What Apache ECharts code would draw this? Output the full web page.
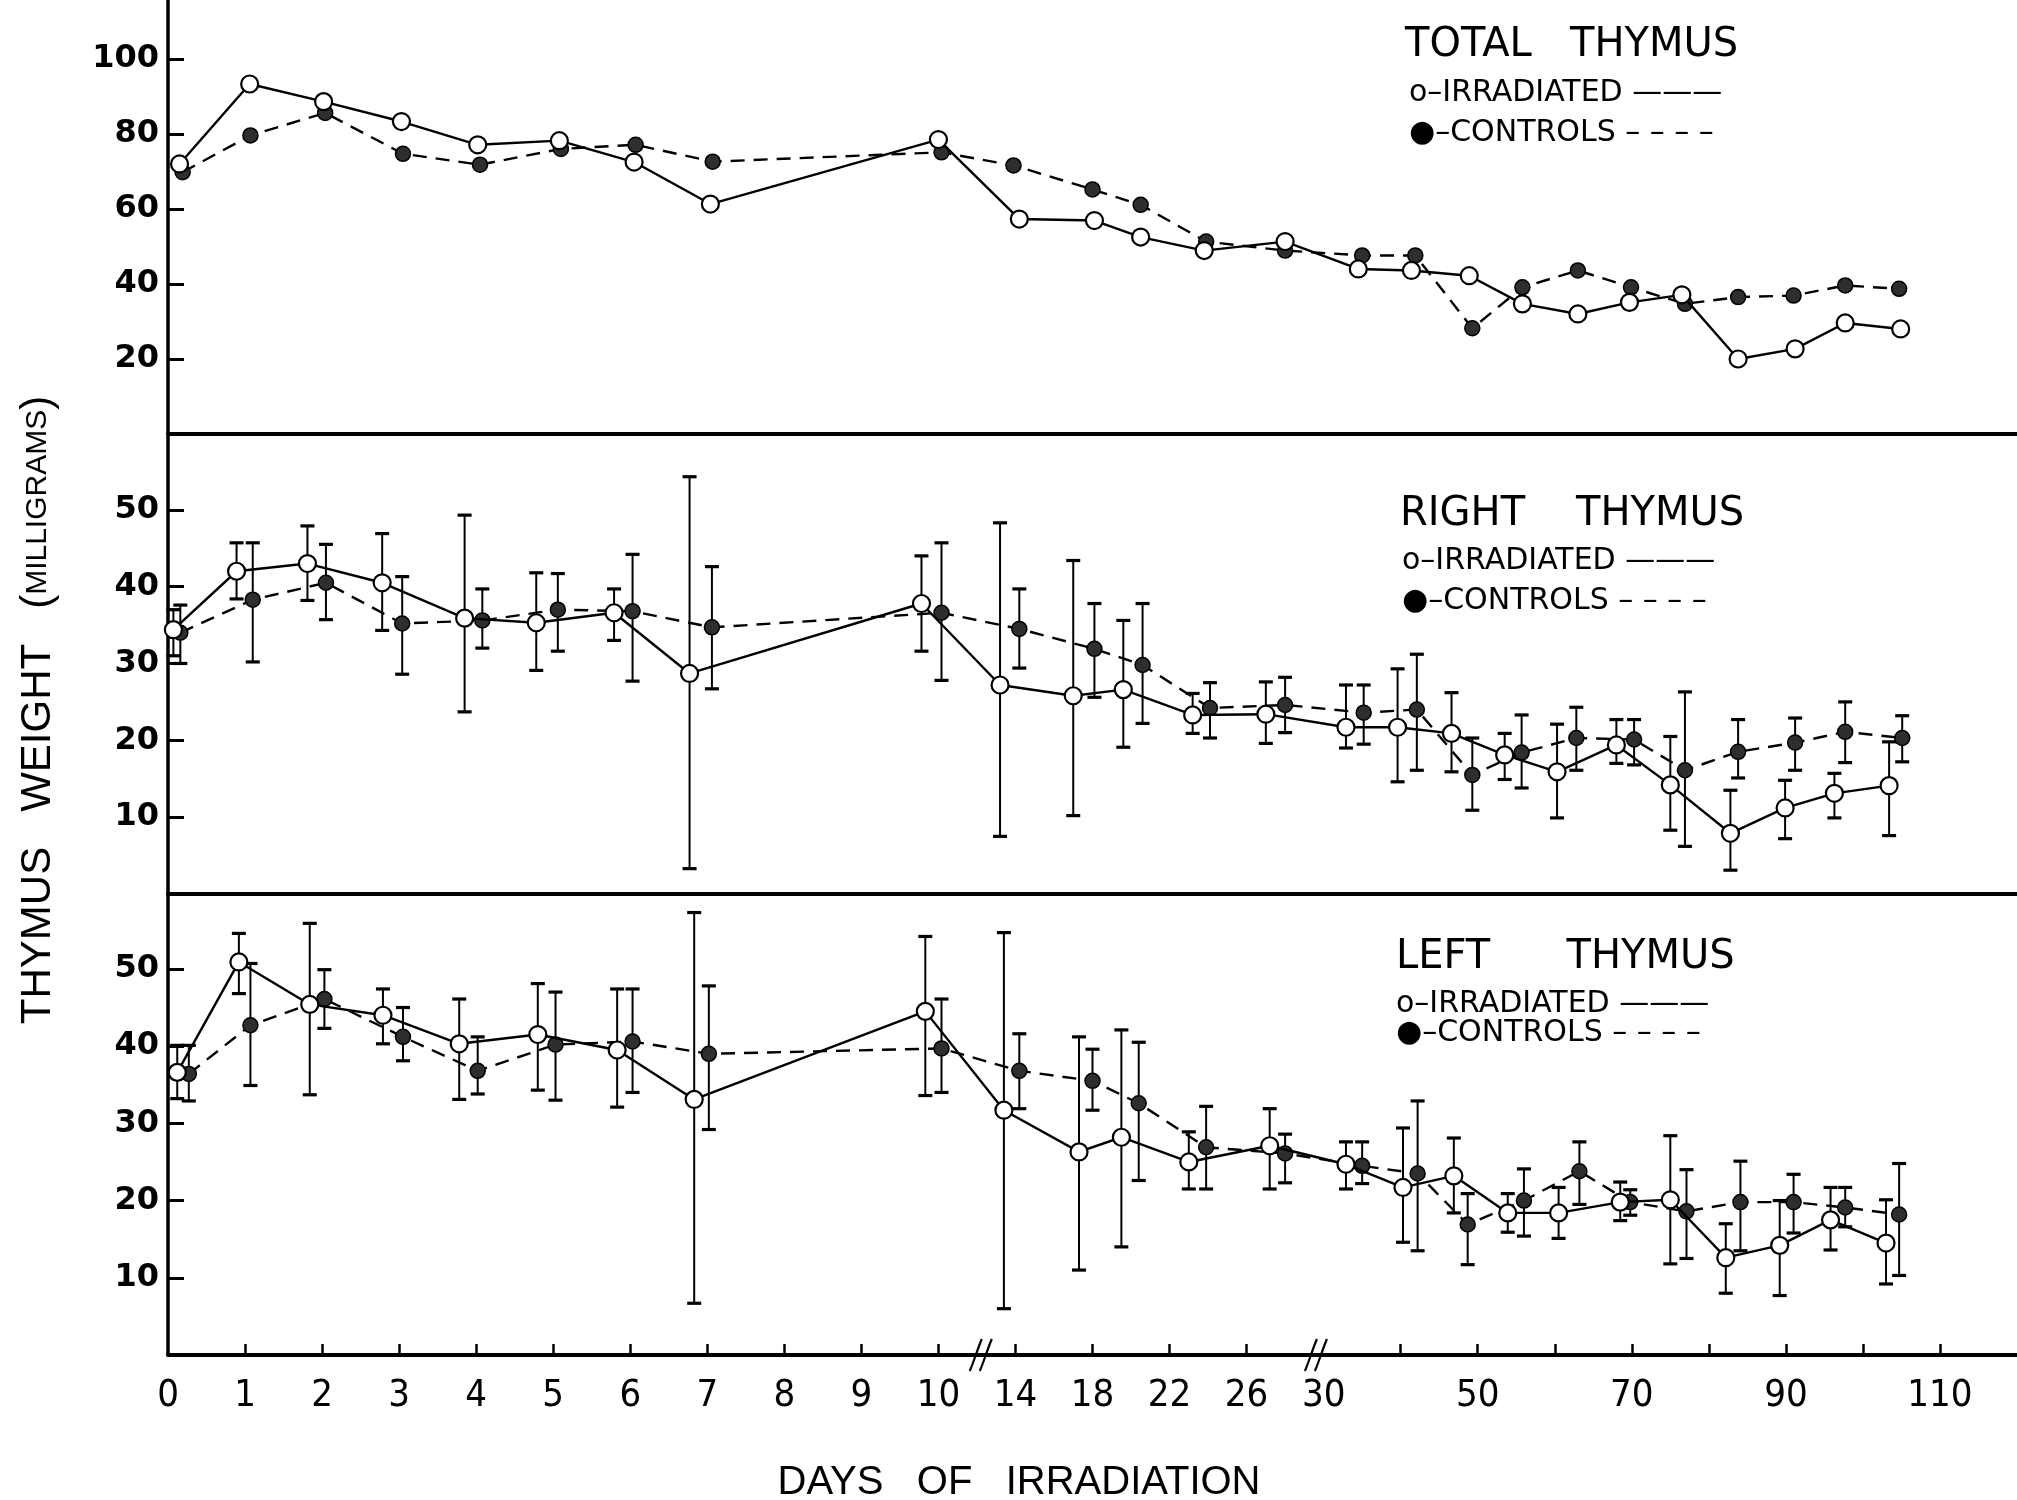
<!DOCTYPE html>
<html><head><meta charset="utf-8">
<script src="https://cdn.jsdelivr.net/npm/echarts@6/dist/echarts.min.js"></script>
<style>html,body{margin:0;padding:0;background:#fff}#c{width:2017px;height:1500px}</style>
</head><body><div id="c"></div>
<script>
// ---------- DATA (days of irradiation, thymus weight in mg) ----------
const topIrrDays = [0.15,1.06,2.02,3.03,4.02,5.08,6.05,7.04,10.0,14.2,18.1,20.5,23.8,28.0,34.5,41.4,48.9,55.8,63.0,69.7,76.5,83.8,91.2,97.7,104.9];
const topIrrVals = [72.0,93.3,88.6,83.3,77.1,78.2,72.5,61.3,78.5,57.3,56.9,52.5,48.9,51.3,44.0,43.6,42.2,34.7,32.0,35.1,37.1,20.0,22.7,29.6,28.0];
const topCtlDays = [0.19,1.07,2.04,3.05,4.05,5.1,6.07,7.07,10.16,13.9,18.0,20.5,23.9,28.0,35.0,41.9,49.3,55.8,63.0,69.9,76.9,83.8,91.0,97.7,104.7];
const topCtlVals = [69.8,79.6,85.6,74.7,71.8,76.0,77.1,72.6,75.1,71.6,65.2,61.1,51.3,48.9,47.6,47.6,28.2,39.1,43.6,39.1,34.7,36.5,36.9,39.6,38.7];

const rIrrDays = [0.07,0.89,1.81,2.78,3.85,4.78,5.79,6.77,9.78,13.2,17.0,19.6,23.2,27.0,32.9,39.6,46.6,53.5,60.3,68.0,75.0,82.8,89.9,96.3,103.4];
const rIrrVals = [34.4,42.0,43.0,40.5,35.9,35.3,36.6,28.7,37.8,27.2,25.8,26.6,23.3,23.4,21.7,21.7,20.9,18.1,15.9,19.4,14.2,7.9,11.2,13.1,14.1];
const rIrrLow  = [31.0,38.4,38.2,34.3,23.7,29.1,33.0,3.3,31.6,7.5,10.2,19.1,20.9,19.6,19.0,14.6,15.9,14.9,9.9,17.0,8.3,3.1,7.2,9.9,7.6];
const rIrrHigh = [37.0,45.7,47.9,46.9,49.3,41.8,39.7,54.3,44.0,48.3,43.4,35.6,26.1,27.6,27.2,29.3,26.2,20.9,22.1,22.7,20.5,13.5,14.8,15.7,19.8];
const rCtlDays = [0.16,1.1,2.05,3.04,4.08,5.06,6.03,7.06,10.16,14.2,18.1,20.6,24.1,28.0,35.2,42.1,49.3,55.7,62.8,70.3,76.9,83.8,91.2,97.7,105.1];
const rCtlVals = [34.0,38.3,40.5,35.2,35.6,37.0,36.8,34.7,36.6,34.5,31.9,29.8,24.2,24.6,23.6,24.0,15.5,18.4,20.3,20.1,16.1,18.5,19.7,21.1,20.3];
const rCtlLow  = [30.0,30.2,35.7,28.6,32.0,31.6,27.7,26.7,27.8,29.4,25.6,22.2,20.3,21.0,19.5,16.1,10.9,13.8,16.1,16.8,6.2,15.1,16.1,17.1,17.2];
const rCtlHigh = [37.6,45.7,45.5,41.3,39.7,41.7,44.2,42.6,45.7,39.7,37.8,37.8,27.5,28.2,27.2,31.2,20.3,23.3,24.3,22.7,26.3,22.7,22.9,25.0,23.2];

const lIrrDays = [0.12,0.92,1.84,2.79,3.78,4.8,5.83,6.83,9.83,13.4,17.3,19.5,23.0,27.2,32.9,40.3,46.9,53.9,60.5,68.5,75.0,82.2,89.2,95.8,103.0];
const lIrrVals = [36.6,50.9,45.4,44.0,40.3,41.5,39.5,33.1,44.5,31.7,26.3,28.2,25.0,27.1,24.7,21.7,23.2,18.4,18.4,19.8,20.1,12.6,14.2,17.5,14.5];
const lIrrLow  = [33.2,46.8,33.7,40.3,33.1,34.3,32.1,6.7,33.6,6.0,11.0,14.0,21.5,21.5,21.5,14.6,18.4,15.9,15.1,17.4,11.8,8.0,7.7,13.6,9.2];
const lIrrHigh = [40.1,54.6,55.9,47.4,46.1,48.1,47.4,57.3,54.2,54.7,41.2,42.1,28.9,31.9,27.6,29.4,28.1,20.9,21.7,22.4,28.4,17.0,20.0,21.7,20.1];
const lCtlDays = [0.27,1.07,2.03,3.05,4.02,5.03,6.03,7.02,10.16,14.2,18.0,20.4,23.9,28.0,35.0,42.2,48.7,56.0,63.2,69.8,77.1,84.1,91.0,97.7,104.7];
const lCtlVals = [36.4,42.7,46.1,41.2,36.8,40.2,40.6,39.0,39.7,36.8,35.5,32.6,26.9,26.1,24.5,23.5,16.9,20.0,23.8,19.8,18.6,19.8,19.8,19.1,18.2];
const lCtlLow  = [32.9,34.9,42.3,38.1,33.8,33.0,34.0,29.2,34.0,31.9,31.7,22.6,21.5,22.3,22.2,13.5,11.7,15.4,19.5,18.1,12.5,13.5,15.8,16.6,10.3];
const lCtlHigh = [40.1,50.7,49.9,45.0,41.2,47.0,47.4,47.8,46.1,41.6,39.6,40.5,32.2,28.6,27.6,32.9,20.9,24.1,27.6,21.4,24.0,25.1,23.4,21.7,24.8];

const topYTicks  = [20,40,60,80,100];
const sideYTicks = [10,20,30,40,50];
const xLabelDays = [0,1,2,3,4,5,6,7,8,9,10,14,18,22,26,30,50,70,90,110];
const xTickDays  = [1,2,3,4,5,6,7,8,9,10,14,18,22,26,40,50,60,70,80,90,100,110];

// ---------- broken (piecewise) day scale ----------
function pos(d){ if(d<=10) return d; if(d<=30) return 10+(d-10)/4; return 15+(d-30)/10; }
const pts  = (days, vals) => days.map((d,i)=>[pos(d), vals[i]]);
const bars = (days, lo, hi) => days.map((d,i)=>[pos(d), lo[i], hi[i]]);

const chart = echarts.init(document.getElementById('c'), null, {renderer:'canvas'});

const grids = [
  {left:168, right:0, top:0,   height:434},
  {left:168, right:0, top:436, height:458},
  {left:168, right:0, top:894, height:461}
];
const yMax = [115.7, 59.6, 59.7];
const NUMFONT = 'DejaVu Sans';
const NARROW = "'Liberation Sans Narrow', 'DejaVu Sans Condensed', 'Liberation Sans', sans-serif";

const xAxes = [0,1,2].map(i => ({
  type:'value', gridIndex:i, min:0, max:24,
  axisLine:{show:true, onZero:false, lineStyle:{color:'#000', width:4}},
  axisTick:{show:false}, axisLabel:{show:false}, splitLine:{show:false}
}));
xAxes[2].axisTick = {show:true, inside:true, length:11, lineStyle:{color:'#000', width:2.5},
  customValues: xTickDays.map(pos)};
xAxes[2].axisLabel = {show:true, customValues: xLabelDays.map(pos), margin:22,
  color:'#000', fontSize:38, fontFamily:NARROW, hideOverlap:false,
  formatter: v => { let best = xLabelDays[0], bd = 1e9;
    xLabelDays.forEach(d => { const dd = Math.abs(pos(d)-v); if(dd<bd){bd=dd;best=d;} });
    return String(best); }};

const yAxes = [0,1,2].map(i => {
  const t = i===0 ? topYTicks : sideYTicks;
  return {
    type:'value', gridIndex:i, min:0, max:yMax[i],
    axisLine:{show:true, lineStyle:{color:'#000', width:3.5}},
    axisTick:{show:true, inside:true, length:16, lineStyle:{color:'#000', width:3}, customValues:t},
    axisLabel:{show:true, customValues:t, margin:9, color:'#000', fontSize:32, fontWeight:'bold', fontFamily:NUMFONT},
    splitLine:{show:false}
  };
});

function irrLine(k, data){
  return {type:'line', xAxisIndex:k, yAxisIndex:k, data, symbol:'circle', symbolSize:17,
    showAllSymbol:true, clip:false, silent:true, z:5,
    lineStyle:{color:'#000', width:2.4},
    itemStyle:{color:'#fff', borderColor:'#000', borderWidth:2.2}};
}
function ctlLine(k, data){
  return {type:'line', xAxisIndex:k, yAxisIndex:k, data, symbol:'circle', symbolSize:15,
    showAllSymbol:true, clip:false, silent:true, z:4,
    lineStyle:{color:'#000', width:2.4, type:[14,9]},
    itemStyle:{color:'#2e2e2e', borderColor:'#000', borderWidth:1.5}};
}
function errBars(k, data){
  return {type:'custom', xAxisIndex:k, yAxisIndex:k, data, silent:true, z:3,
    encode:{x:0, y:[1,2]},
    renderItem:(p, api) => {
      const x = api.value(0);
      const a = api.coord([x, api.value(1)]), b = api.coord([x, api.value(2)]);
      const c = 7;
      const st = {stroke:'#000', lineWidth:2};
      const cs = {stroke:'#000', lineWidth:3.2};
      return {type:'group', children:[
        {type:'line', shape:{x1:a[0], y1:a[1], x2:b[0], y2:b[1]}, style:st},
        {type:'line', shape:{x1:a[0]-c, y1:a[1], x2:a[0]+c, y2:a[1]}, style:cs},
        {type:'line', shape:{x1:b[0]-c, y1:b[1], x2:b[0]+c, y2:b[1]}, style:cs}
      ]};
    }};
}
const breakMarks = {type:'custom', xAxisIndex:2, yAxisIndex:2, data:[[10.55],[14.9]], silent:true, z:6,
  encode:{x:0}, clip:false,
  renderItem:(p, api) => {
    const c = api.coord([api.value(0), 0]);
    const mk = dx => ({type:'bezierCurve', shape:{
      x1:c[0]+dx-6, y1:c[1]+16, cpx1:c[0]+dx-1, cpy1:c[1]+4,
      cpx2:c[0]+dx+1, cpy2:c[1]-4, x2:c[0]+dx+6, y2:c[1]-16},
      style:{stroke:'#000', lineWidth:2.2, fill:null}});
    return {type:'group', children:[mk(-5), mk(5)]};
  }};

const series = [
  ctlLine(0, pts(topCtlDays, topCtlVals)),
  irrLine(0, pts(topIrrDays, topIrrVals)),
  errBars(1, bars(rCtlDays, rCtlLow, rCtlHigh)),
  errBars(1, bars(rIrrDays, rIrrLow, rIrrHigh)),
  ctlLine(1, pts(rCtlDays, rCtlVals)),
  irrLine(1, pts(rIrrDays, rIrrVals)),
  errBars(2, bars(lCtlDays, lCtlLow, lCtlHigh)),
  errBars(2, bars(lIrrDays, lIrrLow, lIrrHigh)),
  ctlLine(2, pts(lCtlDays, lCtlVals)),
  irrLine(2, pts(lIrrDays, lIrrVals)),
  breakMarks
];

function txt(x, y, text, size, family, extra){
  return Object.assign({type:'text', x, y, silent:true, z:10, style:Object.assign({
    text, fill:'#000', fontSize:size, fontFamily:family,
    align:'left', verticalAlign:'middle', textAlign:'left', textVerticalAlign:'middle'}, extra||{})});
}
const LEG = 'DejaVu Sans';
const graphic = [
  txt(1405, 46, 'TOTAL   THYMUS', 40, LEG),
  txt(1409, 93, 'o–IRRADIATED ———', 30, LEG),
  txt(1409, 133, '●–CONTROLS – – – –', 30, LEG),
  txt(1400, 515, 'RIGHT    THYMUS', 40, LEG),
  txt(1402, 561, 'o–IRRADIATED ———', 30, LEG),
  txt(1402, 601, '●–CONTROLS – – – –', 30, LEG),
  txt(1396, 958, 'LEFT      THYMUS', 40, LEG),
  txt(1396, 1004, 'o–IRRADIATED ———', 30, LEG),
  txt(1396, 1033, '●–CONTROLS – – – –', 30, LEG),
  txt(1019, 1483, 'DAYS   OF   IRRADIATION', 40, "'Liberation Sans', sans-serif",
      {align:'center', textAlign:'center'}),
  {type:'text', x:38, y:710, rotation:Math.PI/2, silent:true, z:10, style:{
    text:'{a|THYMUS   WEIGHT   (}{b|MILLIGRAMS}{a|)}',
    align:'center', verticalAlign:'middle', textAlign:'center', textVerticalAlign:'middle',
    fill:'#000', fontSize:42, fontFamily:"'Liberation Sans', sans-serif",
    rich:{a:{fontSize:42, fontFamily:"'Liberation Sans', sans-serif", fill:'#000', color:'#000'},
          b:{fontSize:30, fontFamily:"'Liberation Sans', sans-serif", fill:'#000', color:'#000'}}
  }}
];

chart.setOption({
  animation:false,
  backgroundColor:'#fff',
  grid:grids, xAxis:xAxes, yAxis:yAxes, series, graphic
});
</script></body></html>
